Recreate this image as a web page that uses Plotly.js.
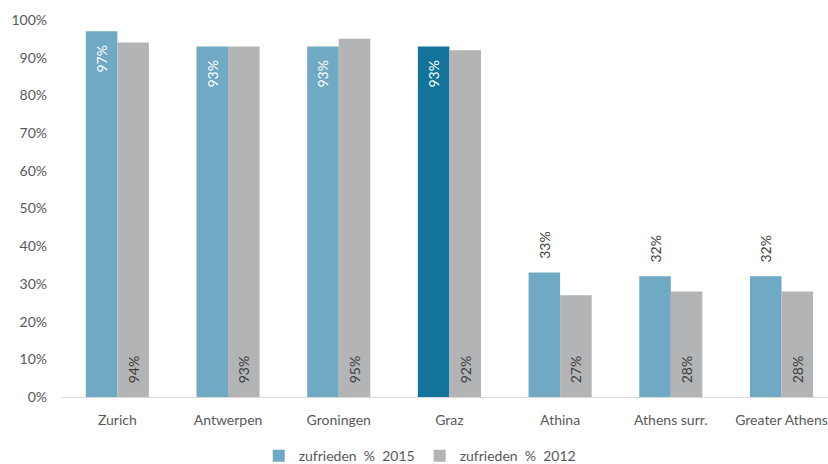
<!DOCTYPE html>
<html>
<head>
<meta charset="utf-8">
<script src="https://cdn.plot.ly/plotly-3.0.1.min.js"></script>
<style>html,body{margin:0;padding:0;background:#fff;}#chart{width:828px;height:464px;}</style>
</head>
<body>
<div id="chart"></div>
<script>
const categories = ["Zurich", "Antwerpen", "Groningen", "Graz", "Athina", "Athens surr.", "Greater Athens"];
const values2015 = [97, 93, 93, 93, 33, 32, 32];
const values2012 = [94, 93, 95, 92, 27, 28, 28];
const seriesNames = ["zufrieden\u00a0\u00a0%\u00a0\u00a02015", "zufrieden\u00a0\u00a0%\u00a0\u00a02012"];
const yTicks = [0, 10, 20, 30, 40, 50, 60, 70, 80, 90, 100];
const yTickText = yTicks.map(v => v + "%");

const blue = "#70A9C4", darkBlue = "#13739A", gray = "#B2B4B5";
const FONT = "Lato, 'Open Sans', sans-serif";
const PAD = "\u00a0\u00a0\u00a0";

const colors2015 = categories.map(c => c === "Graz" ? darkBlue : blue);
const inside2015 = values2015.map(v => v > 50);
const pos2015 = inside2015.map(f => f ? "inside" : "outside");
const tcol2015 = inside2015.map(f => f ? "#ffffff" : "#404040");
const text2015 = values2015.map((v, i) => inside2015[i] ? (v + "%" + PAD) : (PAD + v + "%"));

const trace2015 = {
  type: "bar", name: seriesNames[0], x: categories, y: values2015,
  marker: {color: colors2015, line: {width: 0}},
  text: text2015, textposition: pos2015, textangle: -90,
  insidetextanchor: "end", constraintext: "none",
  textfont: {family: FONT, size: 14, color: tcol2015},
  hoverinfo: "none", cliponaxis: false
};
const trace2012 = {
  type: "bar", name: seriesNames[1], x: categories, y: values2012,
  marker: {color: gray, line: {width: 0}},
  text: values2012.map(v => PAD + v + "%"), textposition: "inside", textangle: -90,
  insidetextanchor: "start", constraintext: "none",
  textfont: {family: FONT, size: 14, color: "#404040"},
  hoverinfo: "none"
};

const layout = {
  width: 828, height: 464,
  margin: {l: 62, r: 0, t: 20, b: 67, autoexpand: false},
  paper_bgcolor: "#fff", plot_bgcolor: "#fff",
  barmode: "group", bargap: 0.43, bargroupgap: 0,
  font: {family: FONT, size: 14, color: "#595959"},
  showlegend: true,
  legend: {orientation: "h", x: 0.467, xanchor: "center", y: -0.157, yanchor: "middle",
           font: {family: FONT, size: 14, color: "#595959"}, traceorder: "normal"},
  xaxis: {range: [-0.5, 6.42], showgrid: false, zeroline: false, showline: true,
          linecolor: "#D9D9D9", linewidth: 1, ticks: "", ticklabelstandoff: 10,
          tickfont: {family: FONT, size: 14, color: "#595959"}, fixedrange: true},
  yaxis: {range: [0, 100], tickmode: "array", tickvals: yTicks, ticktext: yTickText, showgrid: false,
          zeroline: false, showline: false, ticks: "", ticklabelstandoff: 14,
          tickfont: {family: FONT, size: 14, color: "#595959"}, fixedrange: true}
};

Plotly.newPlot("chart", [trace2015, trace2012], layout, {displayModeBar: false, staticPlot: true});
</script>
</body>
</html>
